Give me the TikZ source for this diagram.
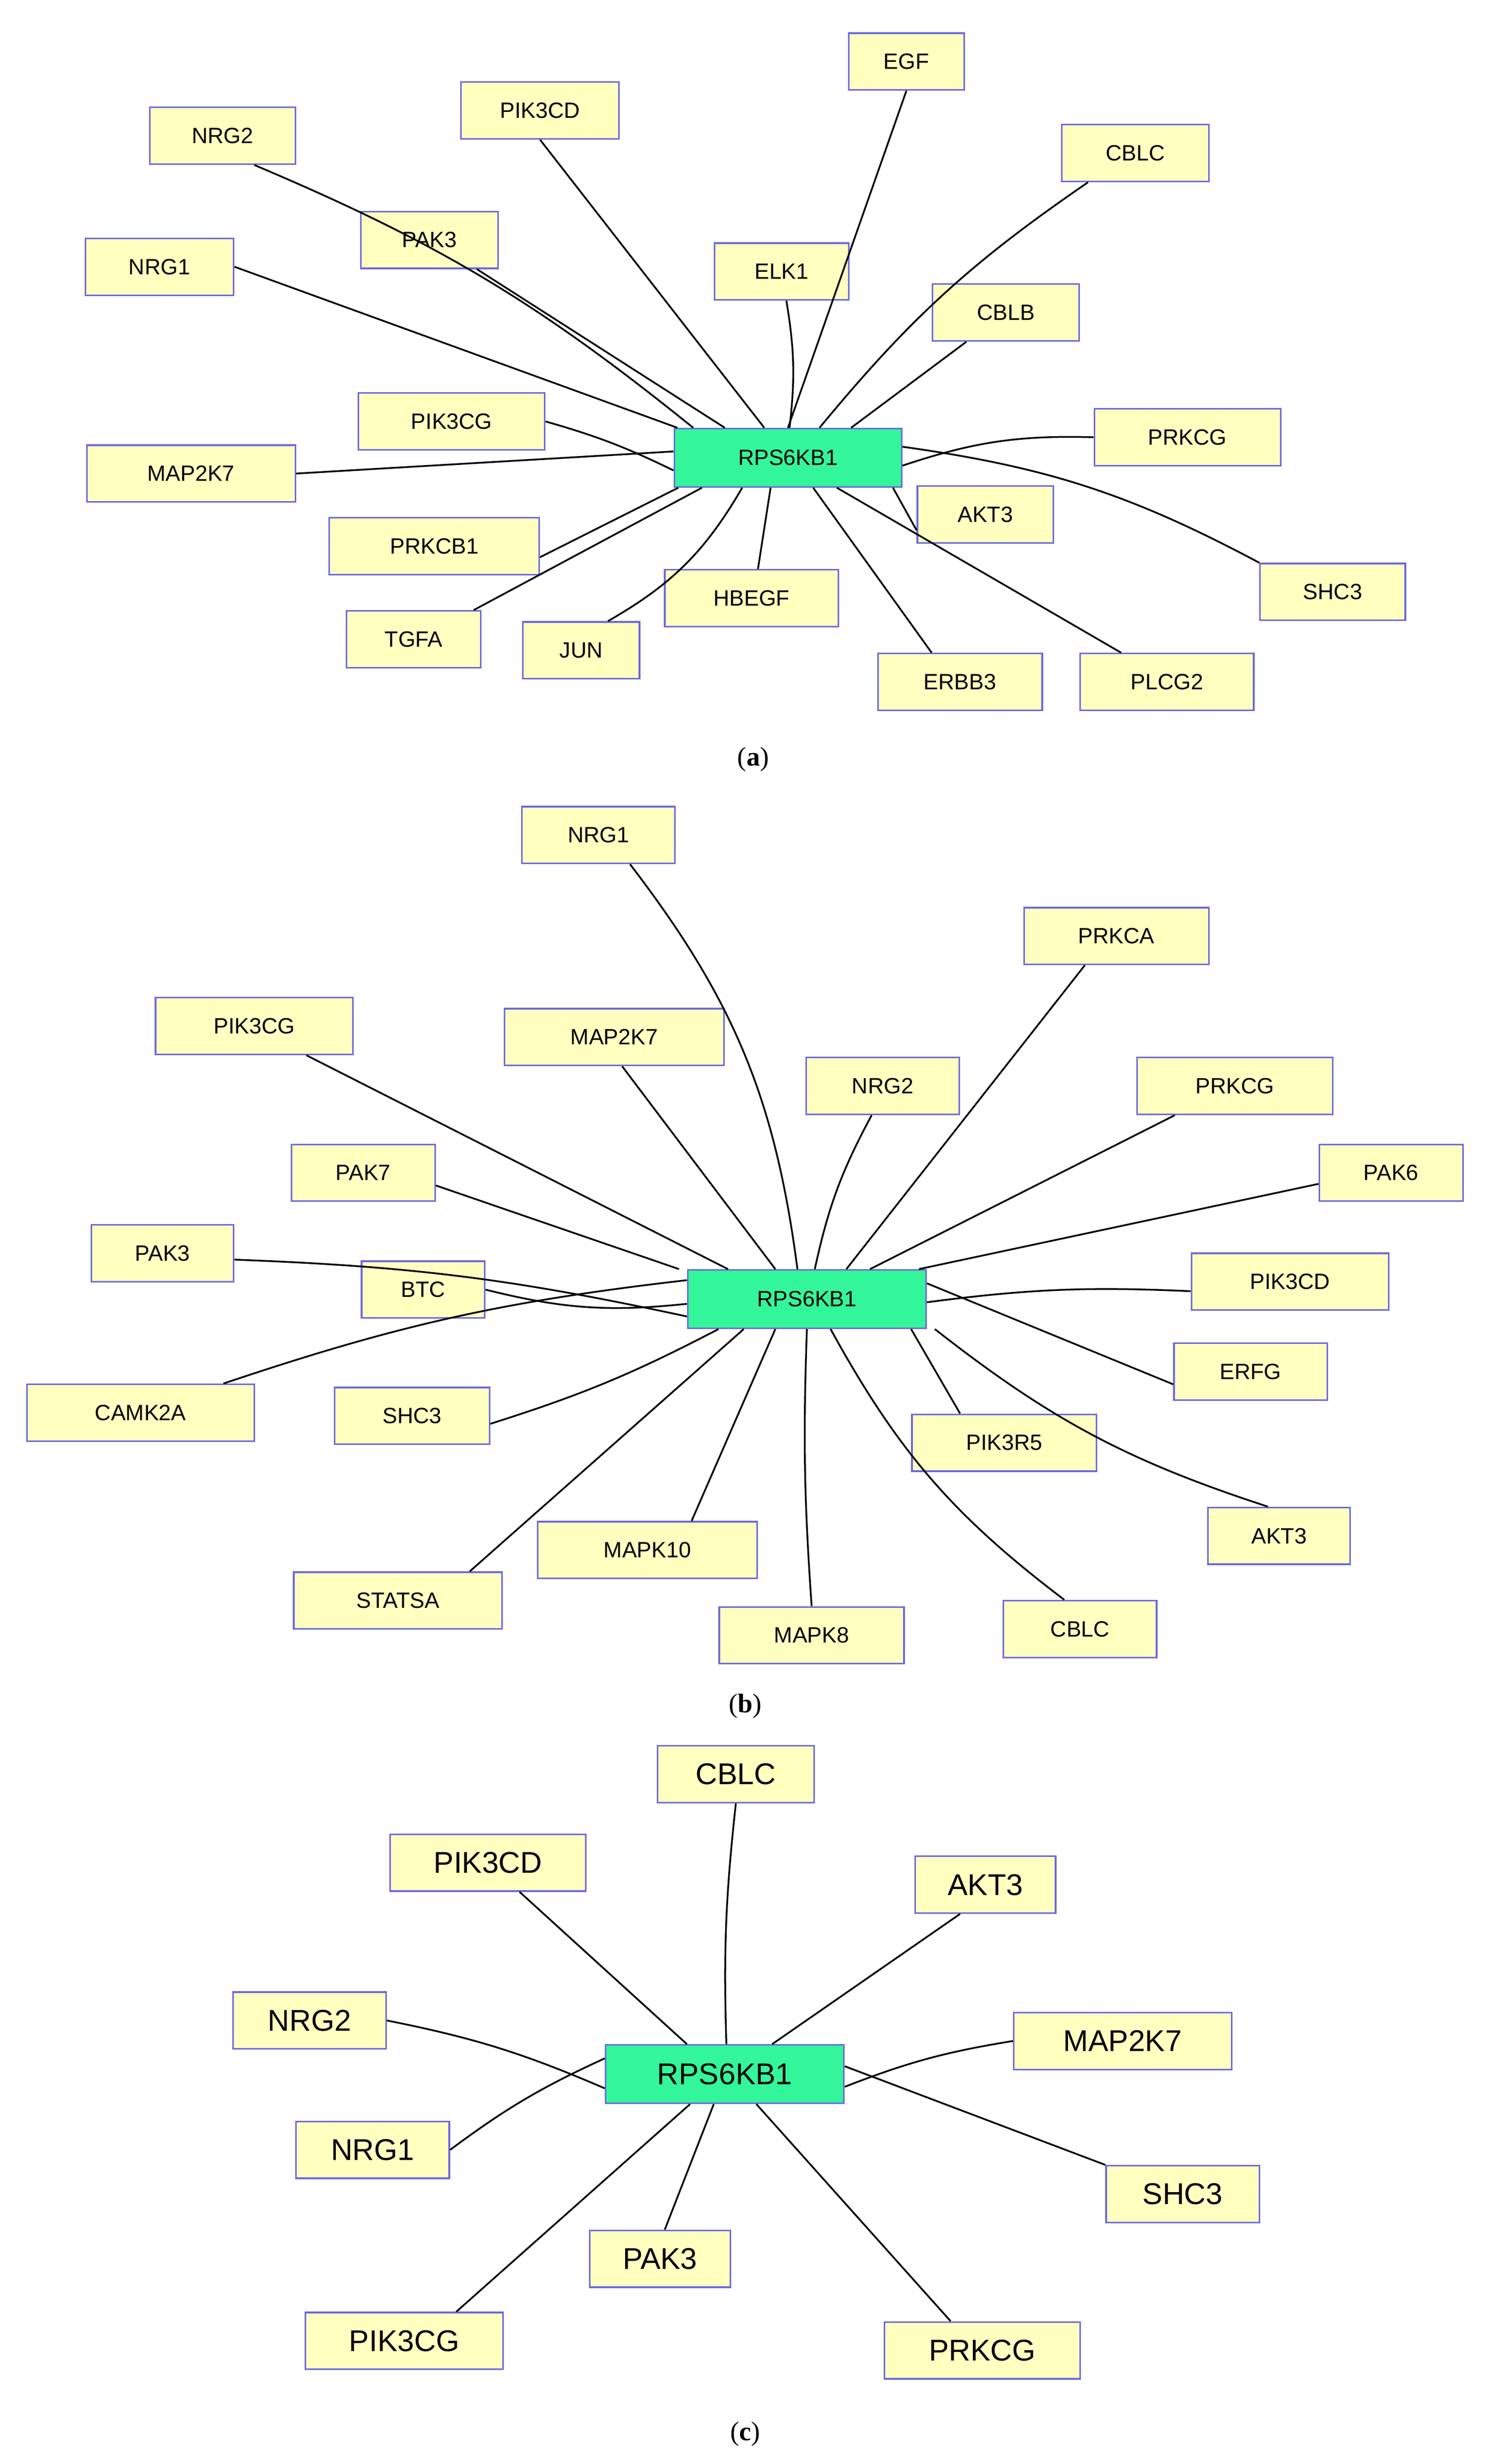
\documentclass[tikz,border=0pt]{standalone}
\usepackage{fontspec}
\setmainfont{Liberation Serif}
\newfontfamily\sansf{Liberation Sans}
\definecolor{nfill}{HTML}{FFFFC0}
\definecolor{ndraw}{HTML}{6A6AE0}
\definecolor{cfill}{HTML}{33F59A}
\begin{document}
\begin{tikzpicture}[x=1pt,y=-1pt,
  g/.style={draw=ndraw,fill=nfill,line width=1pt,inner sep=0pt,minimum height=36pt,font=\sansf\fontsize{14}{14}\selectfont},
  gc/.style={g,font=\sansf\fontsize{19}{19}\selectfont},
  ctr/.style={draw=ndraw,fill=cfill,line width=1pt,inner sep=0pt,minimum height=37pt,minimum width=#1},
  e/.style={line width=1.1pt},
  lbl/.style={font=\fontsize{17}{17}\selectfont}]
\useasboundingbox (0,0) rectangle (946,1561);
\fill[white] (0,0) rectangle (946,1561);
% ---------- (a)
\node[ctr=144pt,font=\sansf\fontsize{14}{14}\selectfont] (a0) at (499,290) {RPS6KB1};
\node[g,minimum width=73pt] (aEGF) at (574,39) {EGF};
\node[g,minimum width=100pt] (aPIK3CD) at (342,70) {PIK3CD};
\node[g,minimum width=92pt] (aNRG2) at (141,86) {NRG2};
\node[g,minimum width=93pt] (aCBLC) at (719,97) {CBLC};
\node[g,minimum width=87pt] (aPAK3) at (272,152) {PAK3};
\node[g,minimum width=94pt] (aNRG1) at (101,169) {NRG1};
\node[g,minimum width=85pt] (aELK1) at (495,172) {ELK1};
\node[g,minimum width=93pt] (aCBLB) at (637,198) {CBLB};
\node[g,minimum width=118pt] (aPIK3CG) at (286,267) {PIK3CG};
\node[g,minimum width=132pt] (aMAP2K7) at (121,300) {MAP2K7};
\node[g,minimum width=118pt] (aPRKCG) at (752,277) {PRKCG};
\node[g,minimum width=86pt] (aAKT3) at (624,326) {AKT3};
\node[g,minimum width=133pt] (aPRKCB1) at (275,346) {PRKCB1};
\node[g,minimum width=92pt] (aSHC3) at (844,375) {SHC3};
\node[g,minimum width=85pt] (aTGFA) at (262,405) {TGFA};
\node[g,minimum width=110pt] (aHBEGF) at (476,379) {HBEGF};
\node[g,minimum width=74pt] (aJUN) at (368,412) {JUN};
\node[g,minimum width=104pt] (aERBB3) at (608,432) {ERBB3};
\node[g,minimum width=110pt] (aPLCG2) at (739,432) {PLCG2};
\node[lbl] (la) at (477,481) {(\textbf{a})};
\draw[e] (aEGF.south) -- (a0.north);
\draw[e] (aPIK3CD.south) -- ([xshift=-15pt]a0.north);
\draw[e] ([xshift=20pt]aNRG2.south) to[bend left=8] ([xshift=-60pt]a0.north);
\draw[e] ([xshift=-30pt]aCBLC.south) to[bend right=8] ([xshift=20pt]a0.north);
\draw[e] ([xshift=30pt]aPAK3.south) -- ([xshift=-40pt]a0.north);
\draw[e] (aNRG1.east) -- ([xshift=-70pt]a0.north);
\draw[e] ([xshift=3pt]aELK1.south) to[bend left=8] ([xshift=1pt]a0.north);
\draw[e] ([xshift=-25pt]aCBLB.south) -- ([xshift=40pt]a0.north);
\draw[e] (aPIK3CG.east) to[bend left=5] ([yshift=-8pt]a0.west);
\draw[e] (aMAP2K7.east) -- ([yshift=4pt]a0.west);
\draw[e] (aPRKCG.west) to[bend right=10] ([yshift=-5pt]a0.east);
\draw[e] ([yshift=-10pt]aAKT3.west) -- ([xshift=-6pt]a0.south east);
\draw[e] ([yshift=-7pt]aPRKCB1.east) -- ([xshift=3pt]a0.south west);
\draw[e] (aSHC3.north west) to[bend right=10] ([yshift=7pt]a0.east);
\draw[e] ([xshift=-5pt]aTGFA.north east) -- ([xshift=18pt]a0.south west);
\draw[e] ([xshift=4pt]aHBEGF.north) -- ([xshift=-11pt]a0.south);
\draw[e] ([xshift=17pt]aJUN.north) to[bend right=15] ([xshift=-29pt]a0.south);
\draw[e] ([xshift=-18pt]aERBB3.north) -- ([xshift=16pt]a0.south);
\draw[e] ([xshift=-29pt]aPLCG2.north) -- ([xshift=31pt]a0.south);
% ---------- (b)
\node[ctr=151pt,font=\sansf\fontsize{14}{14}\selectfont] (b0) at (511,823) {RPS6KB1};
\node[g,minimum width=97pt] (bNRG1) at (379,529) {NRG1};
\node[g,minimum width=117pt] (bPRKCA) at (707,593) {PRKCA};
\node[g,minimum width=125pt] (bPIK3CG) at (161,650) {PIK3CG};
\node[g,minimum width=139pt] (bMAP2K7) at (389,657) {MAP2K7};
\node[g,minimum width=97pt] (bNRG2) at (559,688) {NRG2};
\node[g,minimum width=124pt] (bPRKCG) at (782,688) {PRKCG};
\node[g,minimum width=91pt] (bPAK7) at (230,743) {PAK7};
\node[g,minimum width=91pt] (bPAK6) at (881,743) {PAK6};
\node[g,minimum width=90pt] (bPAK3) at (103,794) {PAK3};
\node[g,minimum width=78pt] (bBTC) at (268,817) {BTC};
\node[g,minimum width=125pt] (bPIK3CD) at (817,812) {PIK3CD};
\node[g,minimum width=97pt] (bERFG) at (792,869) {ERFG};
\node[g,minimum width=144pt] (bCAMK2A) at (89,895) {CAMK2A};
\node[g,minimum width=98pt] (bSHC3) at (261,897) {SHC3};
\node[g,minimum width=117pt] (bPIK3R5) at (636,914) {PIK3R5};
\node[g,minimum width=90pt] (bAKT3) at (810,973) {AKT3};
\node[g,minimum width=139pt] (bMAPK10) at (410,982) {MAPK10};
\node[g,minimum width=132pt] (bSTATSA) at (252,1014) {STATSA};
\node[g,minimum width=117pt] (bMAPK8) at (514,1036) {MAPK8};
\node[g,minimum width=97pt] (bCBLC) at (684,1032) {CBLC};
\node[lbl] (lb) at (472,1081) {(\textbf{b})};
\draw[e] ([xshift=20pt]bNRG1.south) to[bend left=15] ([xshift=-6pt]b0.north);
\draw[e] ([xshift=-20pt]bPRKCA.south) -- ([xshift=25pt]b0.north);
\draw[e] ([xshift=-30pt]bPIK3CG.south east) -- ([xshift=-50pt]b0.north);
\draw[e] ([xshift=5pt]bMAP2K7.south) -- ([xshift=-20pt]b0.north);
\draw[e] ([xshift=-7pt]bNRG2.south) to[bend right=8] ([xshift=5pt]b0.north);
\draw[e] ([xshift=-38pt]bPRKCG.south) -- ([xshift=40pt]b0.north);
\draw[e] ([yshift=-8pt]bPAK7.east) -- ([xshift=-5pt]b0.north west);
\draw[e] ([yshift=-7pt]bPAK6.west) -- ([xshift=-5pt]b0.north east);
\draw[e] ([yshift=-4pt]bPAK3.east) to[bend left=5] ([yshift=-11pt]b0.west);
\draw[e] (bBTC.east) to[bend right=10] ([yshift=-3pt]b0.west);
\draw[e] ([yshift=-6pt]bPIK3CD.west) to[bend right=5] ([yshift=-2pt]b0.east);
\draw[e] ([yshift=-8pt]bERFG.west) -- ([yshift=10pt]b0.east);
\draw[e] ([xshift=-20pt]bCAMK2A.north east) to[bend left=6] ([yshift=12pt]b0.west);
\draw[e] ([yshift=-5pt]bSHC3.east) to[bend right=5] ([xshift=20pt]b0.south west);
\draw[e] ([xshift=-28pt]bPIK3R5.north) -- ([xshift=-10pt]b0.south east);
\draw[e] ([xshift=-7pt]bAKT3.north) to[bend left=10] ([xshift=5pt]b0.south east);
\draw[e] ([xshift=28pt]bMAPK10.north) -- ([xshift=-20pt]b0.south);
\draw[e] ([xshift=-21pt]bSTATSA.north east) -- ([xshift=-40pt]b0.south);
\draw[e] (bMAPK8.north) to[bend left=3] (b0.south);
\draw[e] ([xshift=-10pt]bCBLC.north) to[bend left=12] ([xshift=15pt]b0.south);
% ---------- (c)
\node[ctr=151pt,font=\sansf\fontsize{19}{19}\selectfont] (c0) at (459,1314) {RPS6KB1};
\node[gc,minimum width=99pt] (cCBLC) at (466,1124) {CBLC};
\node[gc,minimum width=124pt] (cPIK3CD) at (309,1180) {PIK3CD};
\node[gc,minimum width=89pt] (cAKT3) at (624,1194) {AKT3};
\node[gc,minimum width=97pt] (cNRG2) at (196,1280) {NRG2};
\node[gc,minimum width=138pt] (cMAP2K7) at (711,1293) {MAP2K7};
\node[gc,minimum width=97pt] (cNRG1) at (236,1362) {NRG1};
\node[gc,minimum width=97pt] (cSHC3) at (749,1390) {SHC3};
\node[gc,minimum width=89pt] (cPAK3) at (418,1431) {PAK3};
\node[gc,minimum width=125pt] (cPIK3CG) at (256,1483) {PIK3CG};
\node[gc,minimum width=124pt] (cPRKCG) at (622,1489) {PRKCG};
\node[lbl] (lc) at (472,1542) {(\textbf{c})};
\draw[e] (cCBLC.south) to[bend right=4] ([xshift=1pt]c0.north);
\draw[e] ([xshift=20pt]cPIK3CD.south) -- ([xshift=-24pt]c0.north);
\draw[e] ([xshift=-16pt]cAKT3.south) -- ([xshift=30pt]c0.north);
\draw[e] (cNRG2.east) to[bend left=6] ([yshift=-9pt]c0.west);
\draw[e] (cMAP2K7.west) to[bend right=6] ([yshift=-8pt]c0.east);
\draw[e] (cNRG1.east) to[bend left=6] ([yshift=10pt]c0.west);
\draw[e] (cSHC3.north west) -- ([yshift=5pt]c0.east);
\draw[e] ([xshift=3pt]cPAK3.north) -- ([xshift=-7pt]c0.south);
\draw[e] ([xshift=-30pt]cPIK3CG.north east) -- ([xshift=-22pt]c0.south);
\draw[e] ([xshift=-20pt]cPRKCG.north) -- ([xshift=20pt]c0.south);
\end{tikzpicture}
\end{document}
